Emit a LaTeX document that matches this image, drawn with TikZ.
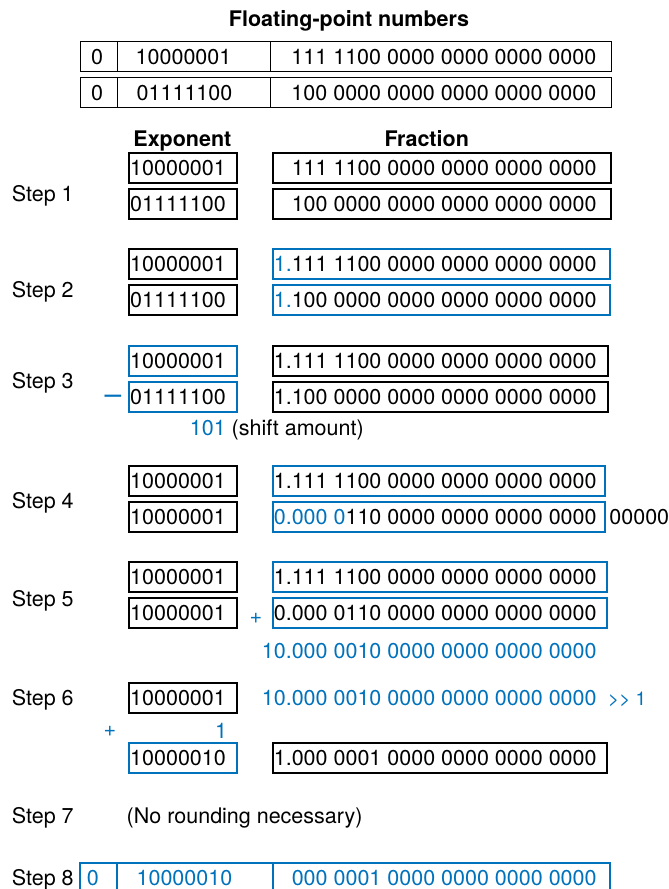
\documentclass[tikz,border=0pt]{standalone}
\usepackage{fontspec}
\setmainfont{TeX Gyre Heros}
\definecolor{hblue}{RGB}{0,114,188}
\begin{document}
\begin{tikzpicture}[x=1pt,y=-1pt,
  bk/.style={draw=black,line width=1.1pt},
  bl/.style={draw=hblue,line width=1.6pt},
  txt/.style={inner sep=0pt,font=\fontsize{21.5}{24}\selectfont},
  lw/.style={txt,anchor=base west},
  le/.style={txt,anchor=base east},
  bt/.style={text=hblue}]
\clip (0,0) rectangle (669,889);
% title
\node[txt,font=\bfseries\fontsize{21.5}{24}\selectfont,anchor=base] (title) at (349,26) {Floating-point numbers};
% top table
\draw[bk] (80.7,41.7) rectangle (611.7,71.7);
\draw[bk] (117.3,41.7) -- (117.3,71.7) (270.7,41.7) -- (270.7,71.7);
\draw[bk] (80.7,77.5) rectangle (611.7,107.5);
\draw[bk] (117.3,77.5) -- (117.3,107.5) (270.7,77.5) -- (270.7,107.5);
\node[lw] (s1) at (90.9,64.4) {0};
\node[lw] (e1) at (135.5,64.4) {10000001};
\node[le] (f1) at (596.5,64.4) {111 1100 0000 0000 0000 0000};
\node[lw] (s2) at (90.9,100.2) {0};
\node[lw] (e2) at (136.5,100.2) {01111100};
\node[le] (f2) at (596.5,100.2) {100 0000 0000 0000 0000 0000};
% headers
\node[txt,font=\bfseries\fontsize{21.5}{24}\selectfont,anchor=base] (hexp) at (182.4,146.5) {Exponent};
\node[txt,font=\bfseries\fontsize{21.5}{24}\selectfont,anchor=base] (hfrac) at (426.7,146.5) {Fraction};
% step labels
\node[lw] (st1) at (11.7,201.5) {Step 1};
\node[lw] (st2) at (11.7,297) {Step 2};
\node[lw] (st3) at (11.7,388) {Step 3};
\node[lw] (st4) at (11.7,508) {Step 4};
\node[lw] (st5) at (11.7,606) {Step 5};
\node[lw] (st6) at (11.7,705) {Step 6};
\node[lw] (st7) at (11.7,823) {Step 7};
\node[lw] (st8) at (11.7,885.7) {Step 8};
% step 1
\draw[bk] (129,153) rectangle (237,183);
\draw[bk] (273,153) rectangle (611,183);
\draw[bk] (129,189) rectangle (237,219);
\draw[bk] (273,189) rectangle (611,219);
\node[lw] (a1) at (130,175.7) {10000001};
\node[le] (a2) at (596.8,175.7) {111 1100 0000 0000 0000 0000};
\node[lw] (a3) at (130,211.7) {01111100};
\node[le] (a4) at (596.8,211.7) {100 0000 0000 0000 0000 0000};
% step 2
\draw[bk] (129,249) rectangle (237,279);
\draw[bl] (273,249) rectangle (610,279);
\draw[bk] (129,285) rectangle (237,315);
\draw[bl] (273,285) rectangle (610,315);
\node[lw] (b1) at (130,271.7) {10000001};
\node[le] (b2) at (596.8,271.7) {\textcolor{hblue}{1.}111 1100 0000 0000 0000 0000};
\node[lw] (b3) at (130,307.7) {01111100};
\node[le] (b4) at (596.8,307.7) {\textcolor{hblue}{1.}100 0000 0000 0000 0000 0000};
% step 3
\draw[bl] (129,346) rectangle (237,376);
\draw[bk] (273,346) rectangle (608,376);
\draw[bl] (129,382) rectangle (237,412);
\draw[bk] (273,382) rectangle (608,412);
\node[lw] (c1) at (130,368.7) {10000001};
\node[le] (c2) at (596.8,368.7) {1.111 1100 0000 0000 0000 0000};
\node[lw] (c3) at (130,404.7) {01111100};
\node[le] (c4) at (596.8,404.7) {1.100 0000 0000 0000 0000 0000};
\node[txt,anchor=base west,text=hblue,font=\fontsize{30}{30}\selectfont] (minus) at (104.5,404.2) {–};
\node[lw] (shift) at (189.7,435) {\textcolor{hblue}{101} (shift amount)};
% step 4
\draw[bk] (129,466) rectangle (237,496);
\draw[bl] (273,466) rectangle (605,496);
\draw[bk] (129,502) rectangle (237,532);
\draw[bl] (273,502) rectangle (605,532);
\node[lw] (d1) at (130,488.7) {10000001};
\node[le] (d2) at (596.8,488.7) {1.111 1100 0000 0000 0000 0000};
\node[lw] (d3) at (130,524.7) {10000001};
\node[le] (d4) at (596.8,524.7) {\textcolor{hblue}{0.000 0}110 0000 0000 0000 0000};
\node[lw] (d5) at (609.2,524.7) {00000};
% step 5
\draw[bk] (129,562) rectangle (237,592);
\draw[bl] (273,562) rectangle (607,592);
\draw[bk] (129,598) rectangle (237,628);
\draw[bl] (273,598) rectangle (607,628);
\node[lw] (g1) at (130,584.7) {10000001};
\node[le] (g2) at (596.8,584.7) {1.111 1100 0000 0000 0000 0000};
\node[lw] (g3) at (130,620.7) {10000001};
\node[le] (g4) at (596.8,620.7) {0.000 0110 0000 0000 0000 0000};
\node[txt,text=hblue] (plus1) at (256,618.3) {+};
\node[le,bt] (sum) at (596.8,658.5) {10.000 0010 0000 0000 0000 0000};
% step 6
\draw[bk] (129,683) rectangle (237,713);
\node[lw] (h1) at (130,705.7) {10000001};
\node[le,bt] (h2) at (596.8,705.7) {10.000 0010 0000 0000 0000 0000};
\node[txt,anchor=base west,text=hblue,font=\fontsize{19}{22}\selectfont] (shr) at (608,705.7) {>\kern0pt> 1};
\node[txt,text=hblue] (plus2) at (110,731.7) {+};
\node[txt,anchor=base,text=hblue] (one) at (221,738.7) {1};
\draw[bl] (129,743) rectangle (237,773);
\draw[bk] (273,743) rectangle (607,773);
\node[lw] (r1) at (130,765.7) {10000010};
\node[le] (r2) at (596.8,765.7) {1.000 0001 0000 0000 0000 0000};
% step 7
\node[lw] (norm) at (126.5,823) {(No rounding necessary)};
% step 8
\draw[bl] (80.2,863) rectangle (610,895);
\draw[bl] (116.9,863) -- (116.9,895) (273,863) -- (273,895);
\node[lw,bt] (z1) at (86.7,885.7) {0};
\node[lw,bt] (z2) at (136.4,885.7) {10000010};
\node[le,bt] (z3) at (596.8,885.7) {000 0001 0000 0000 0000 0000};
\end{tikzpicture}
\end{document}
